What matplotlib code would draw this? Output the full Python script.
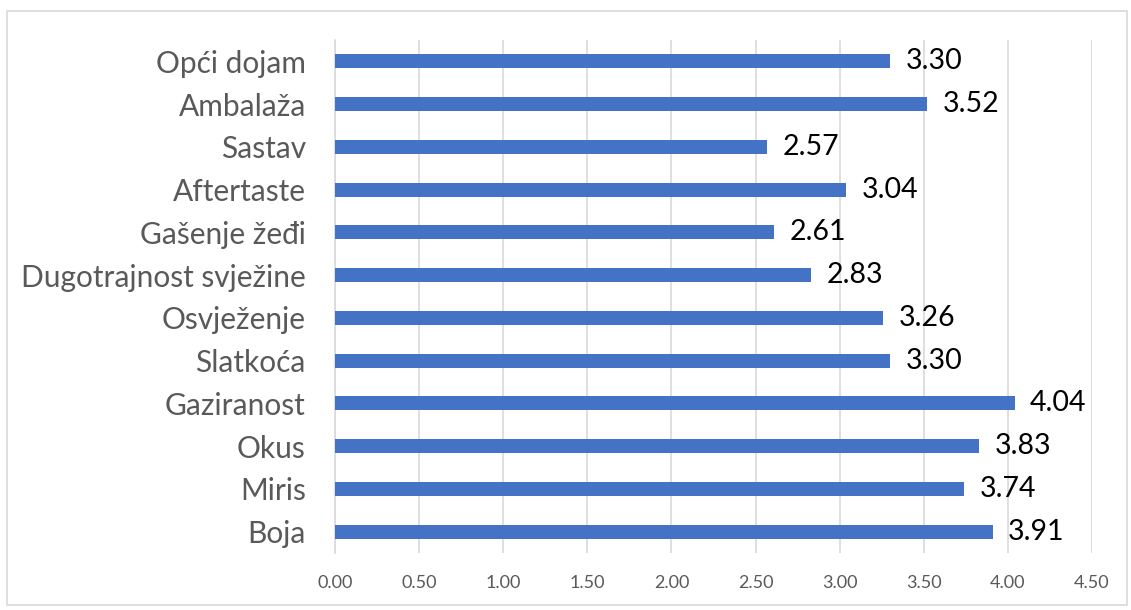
import matplotlib.pyplot as plt
from matplotlib.patches import Rectangle

categories = ["Boja", "Miris", "Okus", "Gaziranost", "Slatkoća", "Osvježenje",
              "Dugotrajnost svježine", "Gašenje žeđi", "Aftertaste", "Sastav",
              "Ambalaža", "Opći dojam"]
values = [3.91, 3.74, 3.83, 4.04, 3.30, 3.26, 2.83, 2.61, 3.04, 2.57, 3.52, 3.30]
xticks = [0.0, 0.5, 1.0, 1.5, 2.0, 2.5, 3.0, 3.5, 4.0, 4.5]

plt.rcParams['font.family'] = ['Lato', 'DejaVu Sans']

fig = plt.figure(figsize=(11.31, 6.10), dpi=100)
ax = fig.add_axes([0.2962, 0.0934, 0.6693, 0.8410])

pos = range(len(categories))
ax.barh(pos, values, height=0.33, color="#4472C4", zorder=3)
for y, v in zip(pos, values):
    ax.text(v + 0.09, y, f"{v:.2f}", va="center", ha="left", fontsize=20.5,
            color="black", zorder=4)

ax.set_xlim(0, 4.5)
ax.set_ylim(-0.5, len(categories) - 0.5)
ax.set_xticks(xticks)
ax.set_xticklabels([f"{t:.2f}" for t in xticks], fontsize=13, color="#595959")
ax.set_yticks(list(pos))
ax.set_yticklabels(categories, fontsize=21.5, color="#595959")
ax.tick_params(axis="both", length=0)
ax.tick_params(axis="x", pad=16)
ax.tick_params(axis="y", pad=21)
ax.grid(axis="x", color="#d9d9d9", linewidth=1.2, zorder=0)
for s in ["top", "right", "bottom"]:
    ax.spines[s].set_visible(False)
ax.spines["left"].set_color("#d9d9d9")
ax.spines["left"].set_linewidth(1.2)

# light grey frame round the whole chart
fig.patches.append(Rectangle((7 / 1131, 5 / 610), 1120 / 1131, 594 / 610,
                             transform=fig.transFigure, fill=False,
                             edgecolor="#d9d9d9", linewidth=1.2))

fig.savefig("out.png", dpi=100)
